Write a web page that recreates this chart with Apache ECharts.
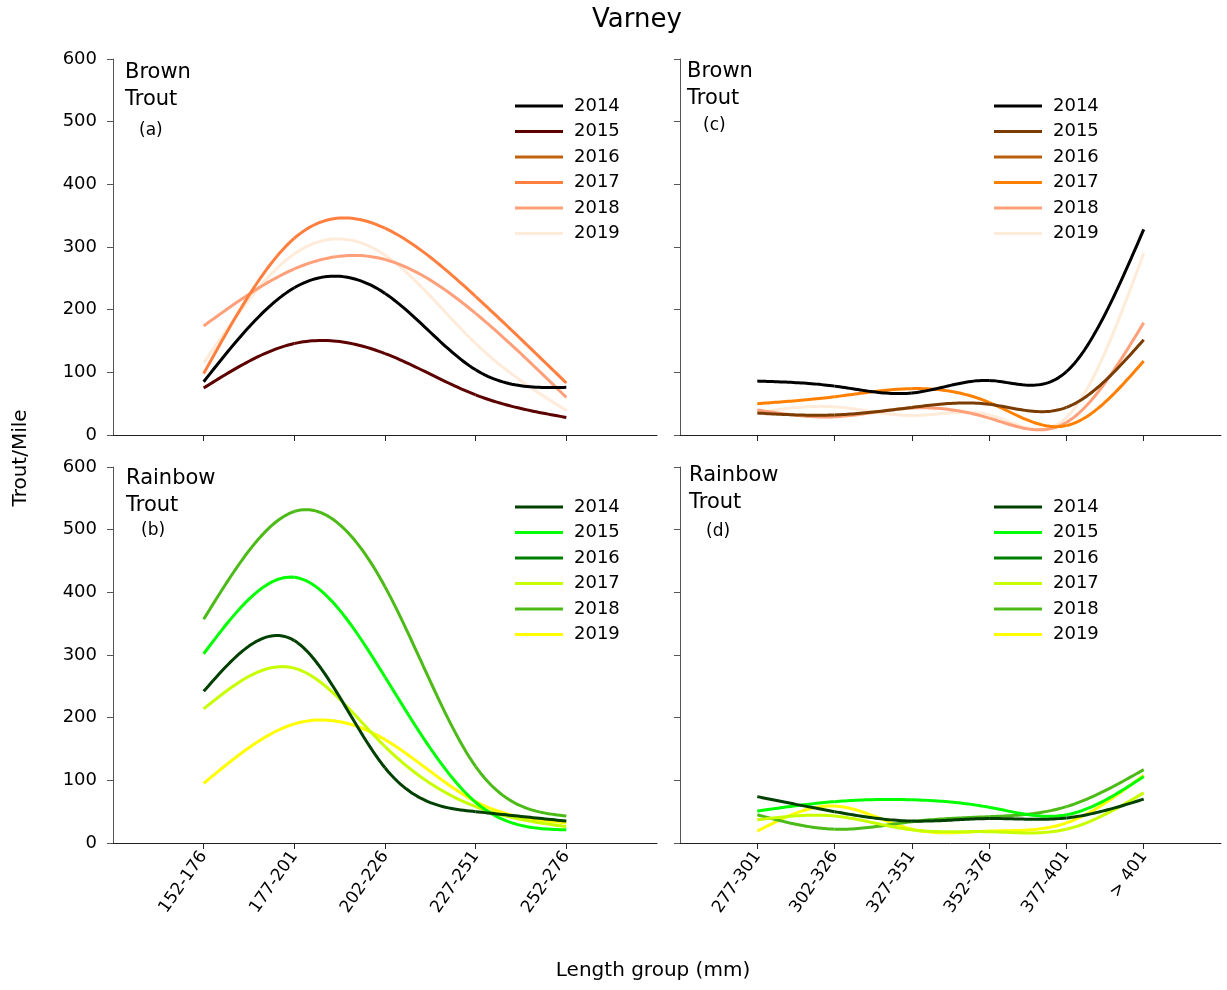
<!DOCTYPE html>
<html>
<head>
<meta charset="utf-8">
<script src="https://cdn.jsdelivr.net/npm/echarts@6/dist/echarts.min.js"></script>
<style>
html,body{margin:0;padding:0;background:#fff;}
#chart{width:1227px;height:990px;}
</style>
</head>
<body>
<div id="chart"></div>
<script>
// ---------- DATA ----------
const catsSmall = ['152-176', '177-201', '202-226', '227-251', '252-276'];
const catsLarge = ['277-301', '302-326', '327-351', '352-376', '377-401', '> 401'];
const years = ['2014', '2015', '2016', '2017', '2018', '2019'];
const yTicks = [0, 100, 200, 300, 400, 500, 600];

// Brown Trout, small length groups (a)
const brownSmall2014 = [85, 235, 226, 104, 76];
const brownSmall2015 = [75, 146, 130, 64, 28];
const brownSmall2016 = [];
const brownSmall2017 = [98, 314, 330, 221, 83];
const brownSmall2018 = [174, 265, 280, 194, 60];
const brownSmall2019 = [115, 289, 287, 146, 39];

// Brown Trout, large length groups (c)
const brownLarge2014 = [86, 78, 67, 87, 101, 328];
const brownLarge2015 = [35, 32, 44, 49, 44, 152];
const brownLarge2016 = [];
const brownLarge2017 = [50, 61, 74, 52, 15, 118];
const brownLarge2018 = [40, 29, 43, 27, 20, 179];
const brownLarge2019 = [36, 45, 31, 32, 28, 290];

// Rainbow Trout, small length groups (b)
const rainbowSmall2014 = [242, 323, 120, 50, 35];
const rainbowSmall2015 = [302, 424, 265, 65, 21];
const rainbowSmall2016 = [];
const rainbowSmall2017 = [214, 279, 154, 58, 26];
const rainbowSmall2018 = [357, 529, 409, 122, 43];
const rainbowSmall2019 = [95, 190, 165, 66, 32];

// Rainbow Trout, large length groups (d)
const rainbowLarge2014 = [74, 50, 35, 39, 40, 70];
const rainbowLarge2015 = [51, 66, 69, 57, 45, 106];
const rainbowLarge2016 = [];
const rainbowLarge2017 = [37, 43, 21, 18, 22, 80];
const rainbowLarge2018 = [45, 22, 34, 42, 58, 117];
const rainbowLarge2019 = [19, 59, 22, 19, 32, 108];

// ---------- STYLES ----------
const colorsBrownSmall = ['#000000', '#5C0000', '#C0620E', '#FF7F3F', '#FFA07A', '#FFEBD9'];
const colorsBrownLarge = ['#000000', '#7A3C00', '#B85E0C', '#FF8000', '#FFA07A', '#FFEBD9'];
const colorsRainbow = ['#004000', '#00FF00', '#008000', '#C8FF00', '#4CBB17', '#FFFF00'];

const FONT = '"DejaVu Sans", "Liberation Sans", Arial, sans-serif';

const panels = [
  { key: 'a', grid: { left: 113, top: 59, width: 544, height: 376 }, cats: catsSmall, showX: false, showY: true,
    data: [brownSmall2014, brownSmall2015, brownSmall2016, brownSmall2017, brownSmall2018, brownSmall2019],
    colors: colorsBrownSmall, legend: { left: 515, top: 97 } },
  { key: 'c', grid: { left: 680, top: 59, width: 541, height: 376 }, cats: catsLarge, showX: false, showY: false,
    data: [brownLarge2014, brownLarge2015, brownLarge2016, brownLarge2017, brownLarge2018, brownLarge2019],
    colors: colorsBrownLarge, legend: { left: 994, top: 97 } },
  { key: 'b', grid: { left: 113, top: 467, width: 544, height: 376 }, cats: catsSmall, showX: true, showY: true,
    data: [rainbowSmall2014, rainbowSmall2015, rainbowSmall2016, rainbowSmall2017, rainbowSmall2018, rainbowSmall2019],
    colors: colorsRainbow, legend: { left: 515, top: 498 } },
  { key: 'd', grid: { left: 680, top: 467, width: 541, height: 376 }, cats: catsLarge, showX: true, showY: false,
    data: [rainbowLarge2014, rainbowLarge2015, rainbowLarge2016, rainbowLarge2017, rainbowLarge2018, rainbowLarge2019],
    colors: colorsRainbow, legend: { left: 994, top: 498 } }
];

// natural cubic spline through pixel points (rendering of the curve only)
function splineSecondDerivs(xs, ys) {
  const n = xs.length;
  const M = new Array(n).fill(0);
  if (n < 3) return M;
  const a = [], b = [], c = [], d = [];
  for (let i = 1; i < n - 1; i++) {
    const h0 = xs[i] - xs[i - 1], h1 = xs[i + 1] - xs[i];
    a.push(h0); b.push(2 * (h0 + h1)); c.push(h1);
    d.push(6 * ((ys[i + 1] - ys[i]) / h1 - (ys[i] - ys[i - 1]) / h0));
  }
  const m = b.length;
  for (let i = 1; i < m; i++) {
    const w = a[i] / b[i - 1];
    b[i] -= w * c[i - 1];
    d[i] -= w * d[i - 1];
  }
  const sol = new Array(m);
  sol[m - 1] = d[m - 1] / b[m - 1];
  for (let i = m - 2; i >= 0; i--) sol[i] = (d[i] - c[i] * sol[i + 1]) / b[i];
  for (let i = 0; i < m; i++) M[i + 1] = sol[i];
  return M;
}

function makeRenderer(vals, color) {
  return function (params, api) {
    const i = params.dataIndex;
    if (i >= vals.length - 1) return null;
    const pts = vals.map((v, k) => api.coord([k, v]));
    const xs = pts.map(p => p[0]), ys = pts.map(p => p[1]);
    const M = splineSecondDerivs(xs, ys);
    const h = xs[i + 1] - xs[i];
    const seg = [];
    const N = 30;
    for (let s = 0; s <= N; s++) {
      const x = xs[i] + h * s / N;
      const A = (xs[i + 1] - x) / h, B = (x - xs[i]) / h;
      const y = A * ys[i] + B * ys[i + 1] + ((A * A * A - A) * M[i] + (B * B * B - B) * M[i + 1]) * h * h / 6;
      seg.push([x, y]);
    }
    return { type: 'polyline', shape: { points: seg },
      style: { stroke: color, lineWidth: 3, fill: null, lineJoin: 'round', lineCap: 'butt' } };
  };
}

const grids = [], xAxes = [], yAxes = [], series = [], legends = [];

panels.forEach((p, gi) => {
  grids.push(Object.assign({ containLabel: false }, p.grid));
  const idx = p.cats.map((_, i) => i);
  xAxes.push({
    gridIndex: gi, type: 'value', min: -1, max: p.cats.length,
    axisLine: { show: true, onZero: false, lineStyle: { color: '#222', width: 1 } },
    axisTick: { show: true, customValues: idx, length: 6, lineStyle: { color: '#222' } },
    axisLabel: { show: p.showX, customValues: idx, formatter: v => p.cats[Math.round(v)] ?? '',
      rotate: 55, margin: 10, fontSize: 17, color: '#000', fontFamily: FONT },
    splitLine: { show: false }
  });
  yAxes.push({
    gridIndex: gi, type: 'value', min: yTicks[0], max: yTicks[yTicks.length - 1], interval: 100,
    axisLine: { show: true, onZero: false, lineStyle: { color: '#555', width: 1 } },
    axisTick: { show: true, length: 6, lineStyle: { color: '#555' } },
    axisLabel: { show: p.showY, margin: 16, fontSize: 18, color: '#000', fontFamily: FONT },
    splitLine: { show: false }
  });
  const names = [];
  years.forEach((y, si) => {
    const name = p.key + '|' + y;
    const vals = p.data[si];
    names.push(name);
    series.push({
      name: name, type: 'custom', xAxisIndex: gi, yAxisIndex: gi,
      data: vals.map((v, i) => [i, v]),
      encode: { x: 0, y: 1 },
      renderItem: makeRenderer(vals, p.colors[si]),
      itemStyle: { color: p.colors[si] },
      z: 10 - si,
      silent: true
    });
  });
  legends.push({
    data: names, orient: 'vertical', left: p.legend.left, top: p.legend.top,
    padding: 0, itemGap: 7.5, itemWidth: 48, itemHeight: 3, icon: 'rect',
    selectedMode: false,
    formatter: n => n.split('|')[1],
    textStyle: { fontSize: 18, color: '#000', fontFamily: FONT, padding: [0, 0, 0, 6] }
  });
});

function txt(x, y, s, size, align) {
  return { type: 'text', x: x, y: y, silent: true,
    style: { text: s, font: size + 'px ' + FONT, fill: '#000', align: align || 'left', verticalAlign: 'middle' } };
}

const graphics = [
  txt(637, 20, 'Varney', 26, 'center'),
  txt(125, 73, 'Brown', 21), txt(125, 100, 'Trout', 21), txt(139, 131, '(a)', 17),
  txt(687, 72, 'Brown', 21), txt(687, 99, 'Trout', 21), txt(703, 126, '(c)', 17),
  txt(126, 479, 'Rainbow', 21), txt(126, 506, 'Trout', 21), txt(141, 531, '(b)', 17),
  txt(689, 476, 'Rainbow', 21), txt(689, 503, 'Trout', 21), txt(706, 532, '(d)', 17),
  txt(653, 971, 'Length group (mm)', 20, 'center'),
  { type: 'text', x: 21, y: 458, rotation: Math.PI / 2, silent: true,
    style: { text: 'Trout/Mile', font: '20px ' + FONT, fill: '#000', align: 'center', verticalAlign: 'middle' } }
];

const chart = echarts.init(document.getElementById('chart'), null, { renderer: 'canvas' });
chart.setOption({
  backgroundColor: '#fff',
  animation: false,
  grid: grids, xAxis: xAxes, yAxis: yAxes, series: series, legend: legends,
  graphic: graphics
});
</script>
</body>
</html>
